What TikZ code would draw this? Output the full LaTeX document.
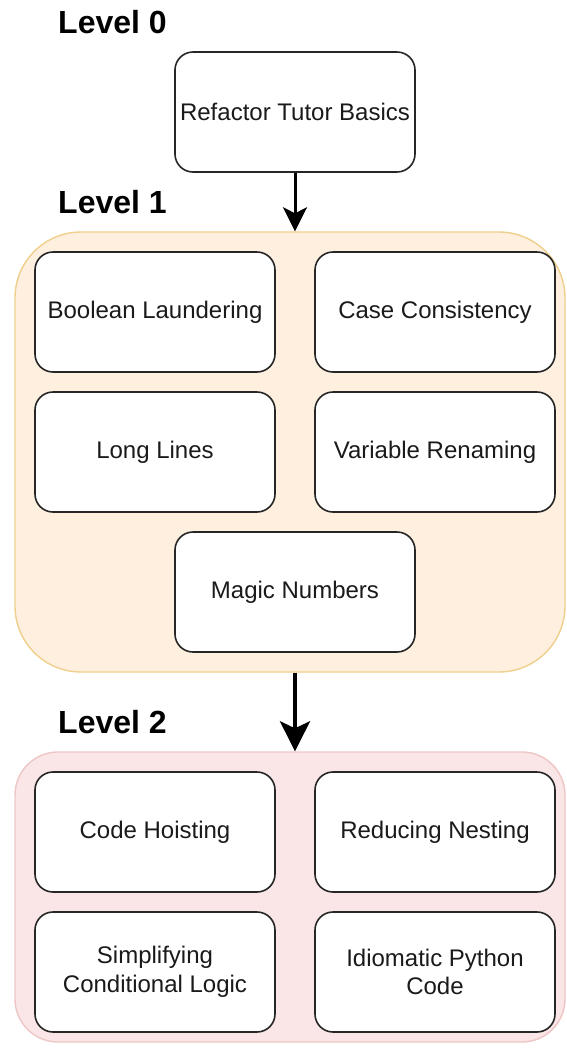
\documentclass[tikz,border=0pt]{standalone}
\usepackage{fontspec}
\setmainfont{Liberation Sans}
\usetikzlibrary{arrows.meta}
\definecolor{lvlonefill}{HTML}{FFEFDF}
\definecolor{lvlonedraw}{HTML}{EFCF8C}
\definecolor{lvltwofill}{HTML}{FAE6E6}
\definecolor{lvltwodraw}{HTML}{EEC6C6}
\definecolor{boxtext}{HTML}{1A1A1A}
\begin{document}
\begin{tikzpicture}[x=1pt,y=-1pt,
  topic/.style={draw=black!85, line width=1.6pt, fill=white, rounded corners=18pt,
    minimum width=240pt, minimum height=120pt, inner sep=0pt, align=center,
    text=boxtext, font=\fontsize{24}{28.8}\selectfont},
  levellabel/.style={anchor=base west, inner sep=0pt, font=\fontsize{32}{38}\selectfont\bfseries},
  flow/.style={-{Stealth[length=24pt,width=24pt,inset=6pt]}, line width=3pt, black}]
\useasboundingbox (0,0) rectangle (566,1053);

% containers for each level
\node[draw=lvlonedraw, fill=lvlonefill, line width=1.4pt, rounded corners=66pt,
  minimum width=550pt, minimum height=440pt, inner sep=0pt] (c1) at (290,452) {};
\node[draw=lvltwodraw, fill=lvltwofill, line width=1.4pt, rounded corners=43pt,
  minimum width=550pt, minimum height=290pt, inner sep=0pt] (c2) at (290,897) {};

% level titles
\node[levellabel] (l0) at (58,33) {Level 0};
\node[levellabel] (l1) at (58,213) {Level 1};
\node[levellabel] (l2) at (58,733) {Level 2};

% level 0
\node[topic] (base) at (295,112) {Refactor Tutor Basics};

% level 1
\node[topic] (bool) at (155,312) {Boolean Laundering};
\node[topic] (case) at (435,312) {Case Consistency};
\node[topic] (long) at (155,452) {Long Lines};
\node[topic] (vars) at (435,452) {Variable Renaming};
\node[topic] (magic) at (295,592) {Magic Numbers};

% level 2
\node[topic] (hoist) at (155,832) {Code Hoisting};
\node[topic] (nest) at (435,832) {Reducing Nesting};
\node[topic] (cond) at (155,972) {Simplifying\\Conditional Logic};
\node[topic] (idiom) at (435,972) {Idiomatic Python\\Code};

% progression arrows
\draw[flow] (base.south) -- (base.south |- c1.north);
\draw[flow, line width=4pt, -{Stealth[length=30pt,width=30pt,inset=7pt]}]
  (c1.south -| base.south) -- (base.south |- c2.north);
\end{tikzpicture}
\end{document}
